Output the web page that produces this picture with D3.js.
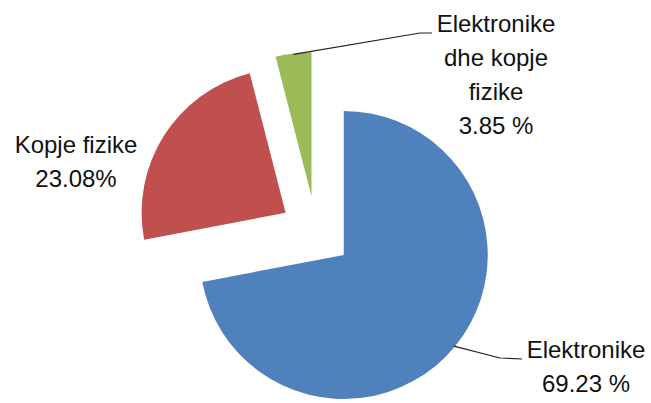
<!DOCTYPE html>
<html>
<head>
<meta charset="utf-8">
<script src="https://cdn.jsdelivr.net/npm/d3@7"></script>
<style>
  body { margin: 0; background: #fff; }
  text { font-family: "Liberation Sans", Arial, sans-serif; font-size: 24px; fill: #111; }
</style>
</head>
<body>
<div id="grafica"></div>
<script>
// datos
var categorias = ["Elektronike", "Kopje fizike", "Elektronike dhe kopje fizike"];
var valores = [69.23, 23.08, 3.85];
var etiquetas = [["Elektronike", "69.23 %"], ["Kopje fizike", "23.08%"], ["Elektronike", "dhe kopje", "fizike", "3.85 %"]];
var colores = ["#4F81BD", "#C0504D", "#9BBB59"];

var W = 651, H = 403;
var cx = 316, cy = 232;   // centro del pie
var radio = 144;
var explota = 36;         // separacion de cada rebanada
var interlinea = 34;

// posicion de cada etiqueta (centro x, baseline primera linea) y codo de la linea guia
var posEtiqueta = [[586, 358], [76, 153], [496, 32]];
var codo = [[[500, 358], [522, 359]], null, [[420, 33], [432, 33]]];

var svg = d3.select("#grafica").append("svg")
    .attr("width", W)
    .attr("height", H);

var pie = d3.pie().sort(null).value(function(d) { return d; });
var arc = d3.arc().innerRadius(0).outerRadius(radio);
var arcos = pie(valores);

var g = svg.append("g").attr("transform", "translate(" + cx + "," + cy + ")");

function desplaza(d, r) {
  var a = (d.startAngle + d.endAngle) / 2;
  return [Math.sin(a) * r, -Math.cos(a) * r];
}

g.selectAll("path.rebanada")
  .data(arcos)
  .enter().append("path")
    .attr("class", "rebanada")
    .attr("d", arc)
    .attr("fill", function(d, i) { return colores[i]; })
    .attr("transform", function(d) {
      var o = desplaza(d, explota);
      return "translate(" + o[0] + "," + o[1] + ")";
    });

// lineas guia
arcos.forEach(function(d, i) {
  if (!codo[i]) return;
  var o = desplaza(d, explota);
  var p = desplaza(d, radio - 1);
  var inicio = [cx + o[0] + p[0], cy + o[1] + p[1]];
  var puntos = [inicio].concat(codo[i]);
  svg.append("path")
    .attr("d", d3.line()(puntos))
    .attr("fill", "none")
    .attr("stroke", "#222")
    .attr("stroke-width", 1.2);
});

// etiquetas
etiquetas.forEach(function(lineas, i) {
  var t = svg.append("text")
    .attr("text-anchor", "middle")
    .attr("x", posEtiqueta[i][0])
    .attr("y", posEtiqueta[i][1]);
  lineas.forEach(function(l, j) {
    t.append("tspan")
      .attr("x", posEtiqueta[i][0])
      .attr("y", posEtiqueta[i][1] + j * interlinea)
      .text(l);
  });
});
</script>
</body>
</html>
